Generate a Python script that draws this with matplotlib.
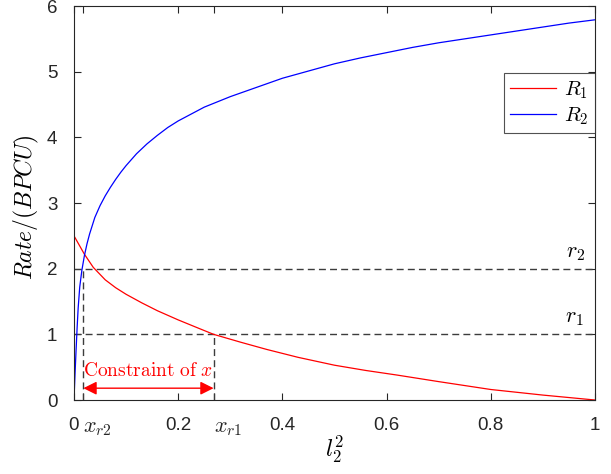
import matplotlib
matplotlib.use("Agg")
import matplotlib.pyplot as plt

# values
l2_sq_R1 = [0, 0.01, 0.02, 0.037, 0.06, 0.08, 0.1, 0.13, 0.16, 0.2, 0.24, 0.268,
            0.32, 0.37, 0.43, 0.5, 0.56, 0.62, 0.7, 0.8, 0.9, 1.0]
R1 = [2.50, 2.36, 2.22, 2.02, 1.83, 1.71, 1.61, 1.48, 1.36, 1.22, 1.09, 1.00,
      0.88, 0.77, 0.65, 0.53, 0.45, 0.38, 0.28, 0.16, 0.075, 0.0]

l2_sq_R2 = [0, 0.002, 0.004, 0.006, 0.008, 0.011, 0.015, 0.02, 0.025, 0.03, 0.04, 0.05,
            0.06, 0.07, 0.08, 0.09, 0.1, 0.12, 0.14, 0.16, 0.18, 0.2, 0.25, 0.3,
            0.35, 0.4, 0.45, 0.5, 0.55, 0.6, 0.65, 0.7, 0.75, 0.8, 0.85, 0.9,
            0.95, 1.0]
R2 = [0, 0.40, 0.76, 1.10, 1.40, 1.72, 1.97, 2.20, 2.38, 2.53, 2.78, 2.96,
      3.11, 3.24, 3.36, 3.47, 3.57, 3.75, 3.90, 4.03, 4.15, 4.25, 4.46, 4.62,
      4.76, 4.90, 5.01, 5.12, 5.21, 5.29, 5.37, 5.44, 5.50, 5.56, 5.62, 5.68,
      5.74, 5.79]

r1, r2 = 1.0, 2.0
x_r1, x_r2 = 0.268, 0.018

xticks = [0, x_r2, 0.2, x_r1, 0.4, 0.6, 0.8, 1]
xticklabels = ["0", r"$x_{r2}$", "0.2", r"$x_{r1}$", "0.4", "0.6", "0.8", "1"]
yticks = [0, 1, 2, 3, 4, 5, 6]

plt.rcParams["font.family"] = ["Liberation Sans", "DejaVu Sans"]
plt.rcParams["mathtext.fontset"] = "cm"

fig = plt.figure(figsize=(6.11, 4.74), dpi=100)
ax = fig.add_axes([0.1211, 0.1561, 0.8527, 0.8312])

dash_kw = dict(color="#3c3c3c", lw=1.0, dashes=(5, 3))
ax.plot([0, 1], [r2, r2], **dash_kw)
ax.plot([0, 1], [r1, r1], **dash_kw)
ax.plot([x_r2, x_r2], [0, r2], **dash_kw)
ax.plot([x_r1, x_r1], [0, r1], **dash_kw)

ax.plot(l2_sq_R1, R1, color="#ff0000", lw=0.9, label=r"$R_1$")
ax.plot(l2_sq_R2, R2, color="#0000ff", lw=0.9, label=r"$R_2$")

ax.text(0.945, r2 + 0.18, r"$r_2$", fontsize=16, va="baseline", ha="left")
ax.text(0.943, r1 + 0.18, r"$r_1$", fontsize=16, va="baseline", ha="left")

# constraint arrow between x_r2 and x_r1
ax.annotate("", xy=(x_r1, 0.18), xytext=(x_r2, 0.18),
            arrowprops=dict(arrowstyle="<|-|>", color="red", lw=1.0,
                            mutation_scale=20, shrinkA=0, shrinkB=0))
ax.text((x_r1 + x_r2) / 2, 0.3, r"$\mathrm{Constraint\ of}\ x$", color="red",
        fontsize=14, ha="center", va="bottom")

ax.set_xlim(0, 1)
ax.set_ylim(0, 6)
ax.set_xticks(xticks)
ax.set_xticklabels(xticklabels)
ax.set_yticks(yticks)

ax.tick_params(direction="in", length=5, width=0.8, top=True, right=True,
               labelsize=13.5, pad=12, color="#262626", labelcolor="#262626")
for lbl in ax.get_xticklabels():
    if "x_" in lbl.get_text():
        lbl.set_horizontalalignment("left")
        lbl.set_fontsize(16)
for sp in ax.spines.values():
    sp.set_color("#262626")
    sp.set_linewidth(0.8)

ax.set_xlabel(r"$l_2^2$", fontsize=17, labelpad=-3)
ax.set_ylabel(r"$Rate/(BPCU)$", fontsize=17)
ax.yaxis.set_label_coords(-0.064, 0.49)

leg = ax.legend(loc="upper right", bbox_to_anchor=(1.0, 0.83), borderaxespad=0,
                fontsize=15, handlelength=2.2, frameon=True, fancybox=False,
                borderpad=0.3, labelspacing=0.2, handletextpad=0.4)
leg.get_frame().set_edgecolor("#262626")
leg.get_frame().set_linewidth(0.8)

fig.savefig("out.png", dpi=100)
